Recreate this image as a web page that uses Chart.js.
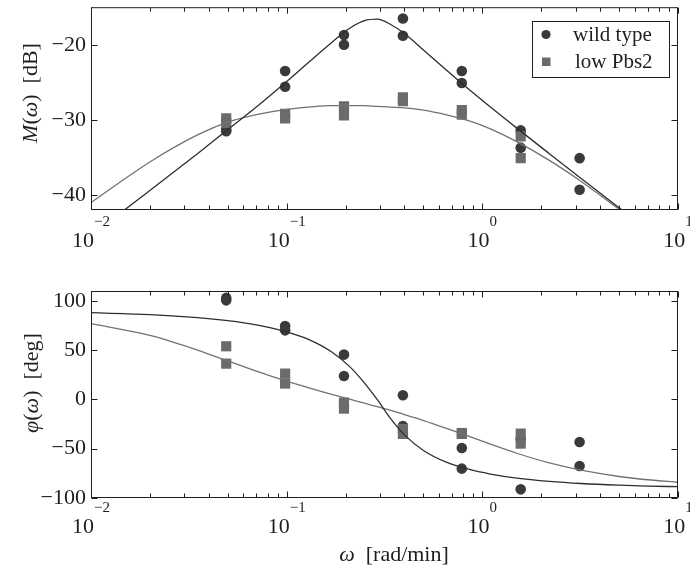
<!DOCTYPE html>
<html>
<head>
<meta charset="utf-8">
<title>Bode plot – wild type vs low Pbs2</title>
<script src="https://cdn.jsdelivr.net/npm/chart.js@4.4.1/dist/chart.umd.min.js"></script>
<style>
  html, body { margin: 0; padding: 0; background: #fff; }
  #wrap { position: relative; width: 690px; height: 571px; }
  canvas { position: absolute; left: 0; }
  #mag   { top: 0; }
  #phase { top: 262px; }
</style>
</head>
<body>
<div id="wrap">
  <canvas id="mag" width="690" height="262"></canvas>
  <canvas id="phase" width="690" height="309"></canvas>
</div>
<script>
/* ── DATA ───────────────────────────────────────────────────── */
// measured frequencies [rad/min], two replicates each
const omegaData  = [0.0491, 0.0982, 0.1963, 0.3927, 0.7854, 1.5708, 3.1416];
const wildMagA   = [-31.5, -23.5, -18.7, -16.5, -23.5, -31.4, -35.1];
const wildMagB   = [-31.3, -25.6, -20.0, -18.8, -25.1, -33.7, -39.3];
const lowMagA    = [-29.8, -29.2, -28.2, -27.0, -28.7, -32.2, null];
const lowMagB    = [-30.4, -29.8, -29.4, -27.5, -29.3, -35.1, null];
const wildPhaseA = [103.0, 74.5, 45.5, 4.2, -49.3, -40.5, -43.2];
const wildPhaseB = [100.5, 70.1, 23.8, -27.0, -70.2, -91.2, -67.5];
const lowPhaseA  = [53.9, 26.2, -3.2, -30.0, -34.1, -34.7, null];
const lowPhaseB  = [36.3, 16.1, -9.3, -35.0, -35.0, -44.8, null];

// fitted curves
const omegaFit      = [0.01, 0.02, 0.035, 0.05, 0.07, 0.1, 0.13, 0.17, 0.21, 0.25, 0.29, 0.34, 0.4, 0.5, 0.65, 0.85, 1.1, 1.5, 2.2, 3.2, 5, 7, 10];
const wildMagFit    = [-45.4, -39.4, -34.5, -31.3, -28.3, -24.9, -22.3, -19.7, -17.8, -16.8, -16.6, -17.3, -18.5, -20.7, -23.3, -25.9, -28.3, -31.1, -34.5, -37.8, -41.7, -44.6, -47.7];
const lowMagFit     = [-41.0, -35.6, -32.0, -30.3, -29.3, -28.6, -28.3, -28.1, -28.1, -28.1, -28.2, -28.3, -28.4, -28.7, -29.3, -30.1, -31.2, -32.9, -35.4, -38.2, -41.9, -44.7, -47.8];
const wildPhaseFit  = [88.0, 86.0, 83.0, 79.9, 75.6, 68.6, 60.7, 48.2, 33.3, 16.6, 0.0, -19.5, -36.0, -51.8, -63.4, -70.8, -75.7, -79.8, -83.1, -85.3, -87.0, -87.9, -88.5];
const lowPhaseFit   = [76.9, 64.9, 50.1, 39.1, 28.7, 18.5, 11.7, 5.2, 0.2, -3.8, -7.4, -11.2, -15.4, -21.4, -29.1, -37.3, -45.4, -54.6, -64.4, -71.8, -78.2, -81.5, -84.0];

// axes
const decadeTicks = [0.01, 0.1, 1, 10];
const decadeExp   = ['−2', '−1', '0', '1'];
const magTicks    = [-40, -30, -20];
const phaseTicks  = [-100, -50, 0, 50, 100];
const seriesNames = ['wild type', 'low Pbs2'];

/* ── STYLE ──────────────────────────────────────────────────── */
const INK   = '#1e1e1e';
const DARK  = '#3a3a3a';
const GREY  = '#6b6b6b';
const LDARK = '#2e2e2e';
const LGREY = '#727272';
const SERIF = '"Liberation Serif", "Times New Roman", serif';

const pts = (xs, ys) => xs.map((x, i) => ({ x, y: ys[i] })).filter(p => p.y != null);

// mixed italic / upright text, centred on cx
function drawMixed(ctx, parts, cx, by, size) {
  let w = 0;
  parts.forEach(p => {
    ctx.font = (p.it ? 'italic ' : '') + size + 'px ' + SERIF;
    p.w = ctx.measureText(p.t).width; w += p.w;
  });
  let x = cx - w / 2;
  ctx.textAlign = 'left'; ctx.textBaseline = 'alphabetic';
  parts.forEach(p => {
    ctx.font = (p.it ? 'italic ' : '') + size + 'px ' + SERIF;
    ctx.fillText(p.t, x, by); x += p.w;
  });
}

/* ── FRAME PLUGIN: box, inward ticks, 10^n labels, titles, legend ── */
const bodeFrame = {
  id: 'bodeFrame',
  afterDraw(chart, args, o) {
    const { ctx, chartArea: a } = chart;
    const xs = chart.scales.x, ys = chart.scales.y;
    const L = a.left + 0.5, R = a.right - 0.5, T = a.top + 0.5, B = a.bottom - 0.5;
    ctx.save();
    ctx.strokeStyle = INK; ctx.lineWidth = 1;
    ctx.strokeRect(L, T, R - L, B - T);

    ctx.beginPath();
    decadeTicks.forEach(d => {
      for (let m = 1; m <= 9; m++) {
        const v = d * m;
        if (v > xs.max * 1.0001) break;
        const px = Math.round(xs.getPixelForValue(v)) + 0.5;
        const len = m === 1 ? 6 : 4;
        ctx.moveTo(px, B); ctx.lineTo(px, B - len);
        ctx.moveTo(px, T); ctx.lineTo(px, T + len);
      }
    });
    o.yTicks.forEach(v => {
      const py = Math.round(ys.getPixelForValue(v)) + 0.5;
      ctx.moveTo(L, py); ctx.lineTo(L + 6, py);
      ctx.moveTo(R, py); ctx.lineTo(R - 6, py);
    });
    ctx.stroke();

    // x tick labels 10^n
    ctx.fillStyle = INK; ctx.textAlign = 'left'; ctx.textBaseline = 'alphabetic';
    decadeTicks.forEach((d, k) => {
      const px = xs.getPixelForValue(d);
      ctx.font = '22px ' + SERIF; const w1 = ctx.measureText('10').width;
      ctx.font = '15px ' + SERIF; const w2 = ctx.measureText(decadeExp[k]).width;
      const x0 = px - (w1 + w2) / 2, base = a.bottom + o.xLabelOffset;
      ctx.font = '22px ' + SERIF; ctx.fillText('10', x0, base);
      ctx.font = '15px ' + SERIF; ctx.fillText(decadeExp[k], x0 + w1, base - 21);
    });

    // y title (rotated)
    ctx.save();
    ctx.translate(o.yTitleX, o.yTitleY);
    ctx.rotate(-Math.PI / 2);
    drawMixed(ctx, o.yTitle, 0, 0, 22);
    ctx.restore();

    // x title
    if (o.xTitle) drawMixed(ctx, o.xTitle, o.xTitleX, o.xTitleY, 22);

    // legend box
    if (o.legend) {
      const lx = 532, ly = 21, lw = 138, lh = 57;
      ctx.fillStyle = '#fff'; ctx.fillRect(lx, ly, lw, lh);
      ctx.strokeStyle = INK; ctx.strokeRect(lx + 0.5, ly + 0.5, lw - 1, lh - 1);
      ctx.fillStyle = DARK;
      ctx.beginPath(); ctx.arc(546, 34.5, 4.6, 0, Math.PI * 2); ctx.fill();
      ctx.fillStyle = GREY; ctx.fillRect(542, 57.5, 8.5, 8.5);
      ctx.fillStyle = INK; ctx.font = '21px ' + SERIF; ctx.textBaseline = 'middle';
      ctx.fillText(seriesNames[0], 573, 35);
      ctx.fillText(seriesNames[1], 575, 62);
    }
    ctx.restore();
  }
};

/* ── BUILD ONE PANEL ────────────────────────────────────────── */
function panel(id, o) {
  return new Chart(document.getElementById(id), {
    type: 'scatter',
    plugins: [bodeFrame],
    data: {
      datasets: [
        { data: pts(omegaFit, o.wildFit), showLine: true, borderColor: LDARK, borderWidth: 1.3,
          pointRadius: 0, cubicInterpolationMode: 'monotone', order: 0 },
        { data: pts(omegaFit, o.lowFit), showLine: true, borderColor: LGREY, borderWidth: 1.3,
          pointRadius: 0, cubicInterpolationMode: 'monotone', order: 0 },
        { data: pts(omegaData, o.lowA).concat(pts(omegaData, o.lowB)), pointStyle: 'rect',
          pointRadius: 7.2, backgroundColor: GREY, borderWidth: 0, order: 1 },
        { data: pts(omegaData, o.wildA).concat(pts(omegaData, o.wildB)), pointStyle: 'circle',
          pointRadius: 5.3, backgroundColor: DARK, borderWidth: 0, order: 2 },
      ]
    },
    options: {
      responsive: false, animation: false, devicePixelRatio: 1, events: [],
      layout: { padding: { top: o.padTop, right: 12, left: 0, bottom: 0 } },
      plugins: {
        legend: { display: false }, tooltip: { enabled: false },
        bodeFrame: o.frame,
      },
      scales: {
        x: {
          type: 'logarithmic', min: 0.01, max: 10,
          grid: { display: false, drawTicks: false }, border: { display: false },
          ticks: { display: false },
          afterFit: s => { s.height = o.xHeight; s.paddingLeft = 0; s.paddingRight = 0; },
        },
        y: {
          min: o.yMin, max: o.yMax,
          grid: { display: false, drawTicks: false }, border: { display: false },
          afterBuildTicks: s => { s.ticks = o.yTicks.map(v => ({ value: v })); },
          ticks: {
            padding: 5, color: INK, font: { family: SERIF, size: 22 },
            callback: v => String(v).replace('-', '−'),
          },
          afterFit: s => { s.width = 91; s.paddingTop = 0; s.paddingBottom = 0; },
        }
      }
    }
  });
}

panel('mag', {
  wildFit: wildMagFit, lowFit: lowMagFit,
  wildA: wildMagA, wildB: wildMagB, lowA: lowMagA, lowB: lowMagB,
  yMin: -42, yMax: -15, yTicks: magTicks, padTop: 4, xHeight: 52,
  frame: {
    yTicks: magTicks, xLabelOffset: 37, legend: true,
    yTitle: [{ t: 'M', it: true }, { t: '(' }, { t: 'ω', it: true }, { t: ')  [dB]' }],
    yTitleX: 37, yTitleY: 93,
  }
});

panel('phase', {
  wildFit: wildPhaseFit, lowFit: lowPhaseFit,
  wildA: wildPhaseA, wildB: wildPhaseB, lowA: lowPhaseA, lowB: lowPhaseB,
  yMin: -100, yMax: 110, yTicks: phaseTicks, padTop: 29, xHeight: 73,
  frame: {
    yTicks: phaseTicks, xLabelOffset: 35, legend: false,
    yTitle: [{ t: 'φ', it: true }, { t: '(' }, { t: 'ω', it: true }, { t: ')  [deg]' }],
    yTitleX: 38, yTitleY: 121,
    xTitle: [{ t: 'ω', it: true }, { t: '  [rad/min]' }],
    xTitleX: 394, xTitleY: 299,
  }
});
</script>
</body>
</html>
